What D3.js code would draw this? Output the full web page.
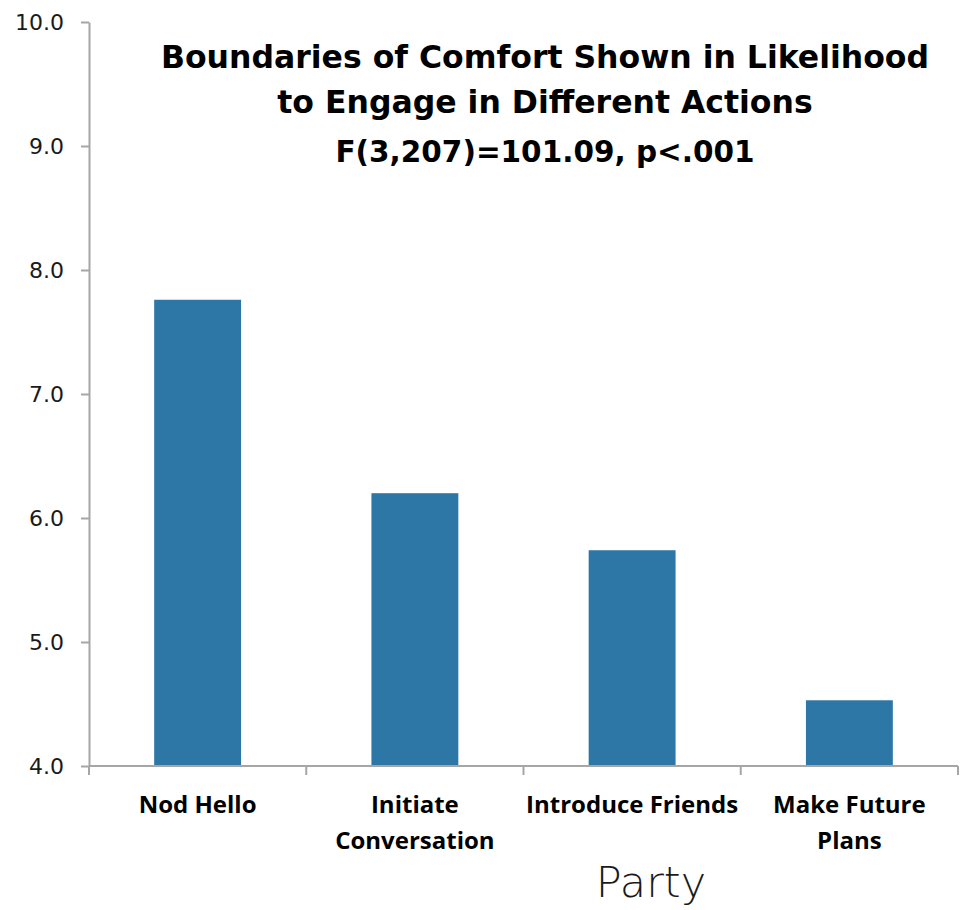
<!DOCTYPE html>
<html>
<head>
<meta charset="utf-8">
<script src="https://cdn.jsdelivr.net/npm/d3@7"></script>
<style>
  html, body { margin: 0; padding: 0; background: #fff; }
  svg { display: block; }
</style>
</head>
<body>
<div id="chart"></div>
<script>
// Likelihood ratings for each action (scale bottom at 4.0)
const categories = ["Nod Hello", "Initiate Conversation", "Introduce Friends", "Make Future Plans"];
const categoryLines = [["Nod Hello"], ["Initiate", "Conversation"], ["Introduce Friends"], ["Make Future", "Plans"]];
const values = [7.76, 6.20, 5.74, 4.53];
const yTicks = [4, 5, 6, 7, 8, 9, 10];
const titleLines = [
  "Boundaries of Comfort Shown in Likelihood",
  "to Engage in Different Actions",
  "F(3,207)=101.09, p<.001"
];
const xAxisTitle = "Party";

const W = 963, H = 910;
const plot = { left: 89, right: 958, top: 22, bottom: 766 };
const barColor = "#2D77A7";
const axisColor = "#A6A6A6";
const gothic = "'DejaVu Sans', 'Century Gothic', sans-serif";
const calibri = "'Open Sans', Calibri, sans-serif";

const svg = d3.select("#chart").append("svg")
  .attr("width", W).attr("height", H);

const y = d3.scaleLinear().domain([4, 10]).range([plot.bottom, plot.top]);
const x = d3.scaleBand().domain(categories)
  .range([plot.left, plot.right])
  .paddingInner(0.6).paddingOuter(0.3);

// bars
svg.append("g").selectAll("rect")
  .data(categories)
  .join("rect")
  .attr("x", d => x(d))
  .attr("width", x.bandwidth())
  .attr("y", (d, i) => y(values[i]))
  .attr("height", (d, i) => y(4) - y(values[i]))
  .attr("fill", barColor);

// y axis
const yAxis = svg.append("g")
  .attr("transform", `translate(${plot.left},0)`)
  .call(d3.axisLeft(y).tickValues(yTicks).tickFormat(d3.format(".1f"))
    .tickSize(8).tickSizeOuter(0).tickPadding(17));
yAxis.select(".domain").attr("stroke", axisColor).attr("stroke-width", 2);
yAxis.selectAll(".tick line").attr("stroke", axisColor).attr("stroke-width", 2);
yAxis.selectAll(".tick text")
  .attr("font-family", gothic).attr("font-size", 22).attr("fill", "#1a1a1a");

// x axis line with boundary ticks between categories
const xAxis = svg.append("g");
xAxis.append("line")
  .attr("x1", plot.left).attr("x2", plot.right)
  .attr("y1", y(4)).attr("y2", y(4))
  .attr("stroke", axisColor).attr("stroke-width", 2);
const boundaries = d3.range(categories.length + 1).map(i => plot.left + i * x.step());
xAxis.selectAll("line.tick")
  .data(boundaries)
  .join("line")
  .attr("class", "tick")
  .attr("x1", d => d).attr("x2", d => d)
  .attr("y1", y(4)).attr("y2", y(4) + 9)
  .attr("stroke", axisColor).attr("stroke-width", 2);

// category labels
const catLabels = xAxis.selectAll("text.cat")
  .data(categories)
  .join("text")
  .attr("class", "cat")
  .attr("text-anchor", "middle")
  .attr("font-family", calibri)
  .attr("font-weight", "bold")
  .attr("font-size", 24)
  .attr("fill", "#000");
catLabels.each(function(d, i) {
  const t = d3.select(this);
  categoryLines[i].forEach((line, j) => {
    t.append("tspan")
      .attr("x", x(d) + x.bandwidth() / 2)
      .attr("y", 813 + j * 36)
      .text(line);
  });
});

// axis title
svg.append("text")
  .attr("x", 651).attr("y", 897)
  .attr("text-anchor", "middle")
  .attr("font-family", gothic)
  .attr("font-weight", 200)
  .attr("font-size", 43)
  .attr("fill", "#1a1a1a")
  .text(xAxisTitle);

// chart title
const titleY = [68, 113, 162];
const titleSize = [31.5, 31.5, 29.5];
svg.append("g").selectAll("text")
  .data(titleLines)
  .join("text")
  .attr("x", 545)
  .attr("y", (d, i) => titleY[i])
  .attr("text-anchor", "middle")
  .attr("font-family", gothic)
  .attr("font-weight", "bold")
  .attr("font-size", (d, i) => titleSize[i])
  .attr("fill", "#000")
  .text(d => d);
</script>
</body>
</html>
